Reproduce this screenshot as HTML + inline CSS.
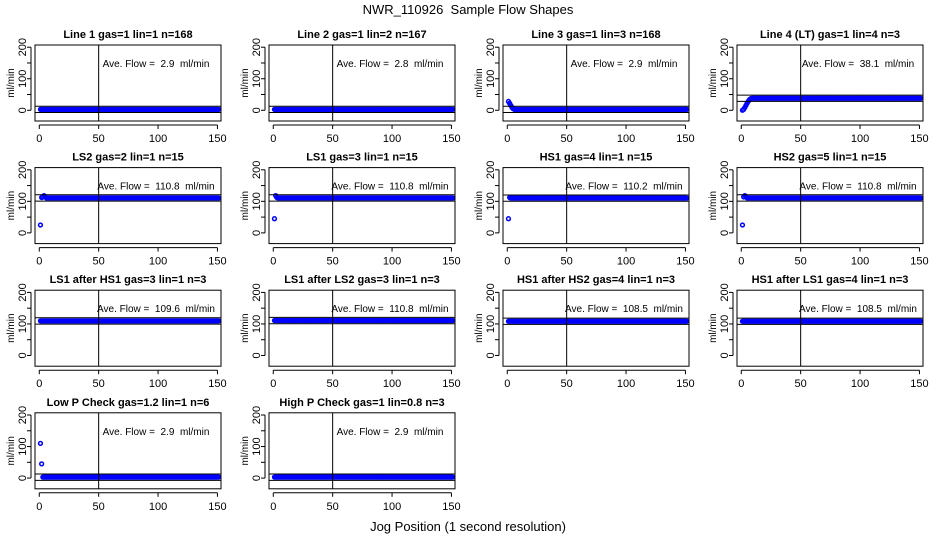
<!DOCTYPE html>
<html><head><meta charset="utf-8"><style>
html,body{margin:0;padding:0;background:#fff;}
svg{display:block;font-family:"Liberation Sans",sans-serif;}
text{white-space:pre;}
</style></head><body>
<svg id="chart" width="936" height="540" viewBox="0 0 936 540" xmlns="http://www.w3.org/2000/svg">
<text x="468" y="14" text-anchor="middle" font-size="13">NWR_110926  Sample Flow Shapes</text>
<text x="468" y="531" text-anchor="middle" font-size="13">Jog Position (1 second resolution)</text>
</svg>
<script>
const titles = ["Line 1 gas=1 lin=1 n=168","Line 2 gas=1 lin=2 n=167","Line 3 gas=1 lin=3 n=168","Line 4 (LT) gas=1 lin=4 n=3",
"LS2 gas=2 lin=1 n=15","LS1 gas=3 lin=1 n=15","HS1 gas=4 lin=1 n=15","HS2 gas=5 lin=1 n=15",
"LS1 after HS1 gas=3 lin=1 n=3","LS1 after LS2 gas=3 lin=1 n=3","HS1 after HS2 gas=4 lin=1 n=3","HS1 after LS1 gas=4 lin=1 n=3",
"Low P Check gas=1.2 lin=1 n=6","High P Check gas=1 lin=0.8 n=3"];
const aveFlow = [2.9,2.8,2.9,38.1,110.8,110.8,110.2,110.8,109.6,110.8,108.5,108.5,2.9,2.9];
const startValues = [[],[],[28,22,15,9,5,3],[0,3,9,16,23,29,34,37],[25,112,114,118,114],[45,118,112],[45,112],[25,114,118,114],[],[],[],[],[110,45],[]];
const steadyValues = [2.9,2.8,2.9,38.1,110.8,110.8,110.2,110.8,109.6,110.8,108.5,108.5,2.9,2.9];
const nPoints = 151;
const xTicks = [0,50,100,150];
const yTicks = [0,100,200];
const bandHalf = 10;

const svg = document.getElementById('chart');
const NS = 'http://www.w3.org/2000/svg';
const colX = [35,269,503,737], rowY = [45,167.6,290.2,412.8];
const W = 186, H = 76;
const xMin = -3.6, xMax = 153, yMin = -34, yMax = 207;
function mk(tag, attrs, parent){const e=document.createElementNS(NS,tag);for(const k in attrs)e.setAttribute(k,attrs[k]);(parent||svg).appendChild(e);return e;}

titles.forEach((t,i)=>{
  const L = colX[i%4], T = rowY[Math.floor(i/4)];
  const sx = v => L + (v-xMin)/(xMax-xMin)*W;
  const sy = v => T + H - (v-yMin)/(yMax-yMin)*H;
  const g = mk('g',{});
  
  
  const tt = mk('text',{x:L+W/2,y:T-7,'text-anchor':'middle','font-size':'11','font-weight':'bold'},g);
  tt.textContent = t;
  
  
  const pts = mk('g',{fill:'none',stroke:'#0000ff','stroke-width':'1.5'},g);
  
  
  const sv = startValues[i];
  for(let k=1;k<=nPoints;k++){
    const v = k<=sv.length ? sv[k-1] : steadyValues[i];
    const c = mk('circle',{cx:sx(k).toFixed(2),cy:sy(v).toFixed(2),r:1.9},pts);
    
    
  }
  [aveFlow[i]-bandHalf, aveFlow[i]+bandHalf].forEach(v=>{
    const l = mk('line',{x1:L,x2:L+W,y1:sy(v),y2:sy(v),stroke:'#000','stroke-width':1},g);
    
    
  });
  const vl = mk('line',{x1:sx(50),x2:sx(50),y1:T,y2:T+H,stroke:'#000','stroke-width':1},g);
  
  
  const box = mk('rect',{x:L,y:T,width:W,height:H,fill:'none',stroke:'#000','stroke-width':1},g);
  
  
  const at = mk('text',{x:L+121,y:T+22,'text-anchor':'middle','font-size':'10'},g);
  at.textContent = 'Ave. Flow =  '+aveFlow[i]+'  ml/min';
  
  
  const xa = mk('g',{},g);
  
  
  mk('line',{x1:sx(xTicks[0]),x2:sx(xTicks[xTicks.length-1]),y1:T+H+4,y2:T+H+4,stroke:'#000'},xa);
  xTicks.forEach(v=>{
    mk('line',{x1:sx(v),x2:sx(v),y1:T+H+4,y2:T+H+8,stroke:'#000'},xa);
    const lt = mk('text',{x:sx(v),y:T+H+21,'text-anchor':'middle','font-size':'11'},xa);
    lt.textContent = v;
    
    
  });
  const ya = mk('g',{},g);
  
  
  mk('line',{x1:L-4,x2:L-4,y1:sy(0),y2:sy(200),stroke:'#000'},ya);
  [0,50,100,150,200].forEach(v=>mk('line',{x1:L-8,x2:L-4,y1:sy(v),y2:sy(v),stroke:'#000'},ya));
  yTicks.forEach(v=>{
    const lt = mk('text',{x:L-9,y:sy(v),'text-anchor':'middle','font-size':'11',transform:'rotate(-90 '+(L-9)+' '+sy(v)+')'},ya);
    lt.textContent = v;
    
    
  });
  const yl = mk('text',{x:L-21,y:T+H/2,'text-anchor':'middle','font-size':'10',transform:'rotate(-90 '+(L-21)+' '+(T+H/2)+')'},ya);
  yl.textContent = 'ml/min';
  
  
});
</script>
</body></html>
